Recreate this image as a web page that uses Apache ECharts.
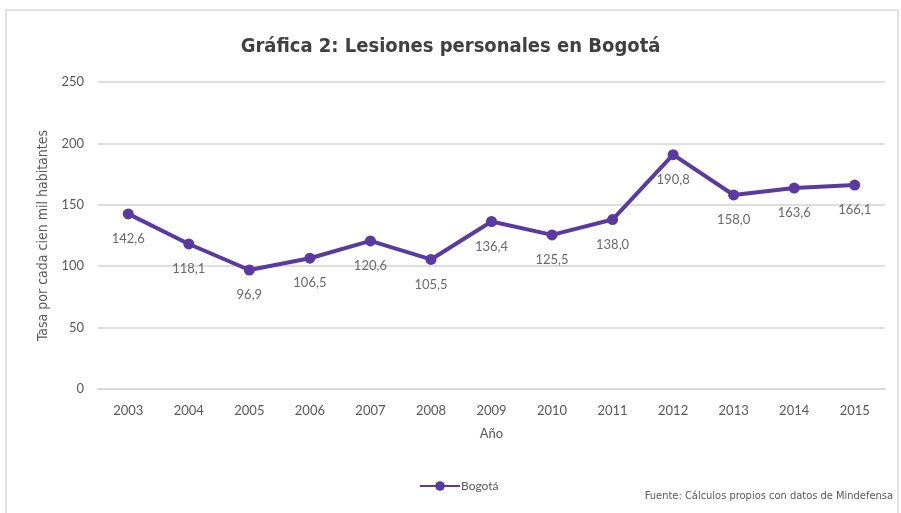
<!DOCTYPE html>
<html>
<head>
<meta charset="utf-8">
<script src="https://cdn.jsdelivr.net/npm/echarts@6/dist/echarts.min.js"></script>
<style>
  html, body { margin: 0; padding: 0; background: #fff; }
  #chart { width: 901px; height: 513px; }
</style>
</head>
<body>
<div id="chart"></div>
<script>
// años
const years = ['2003', '2004', '2005', '2006', '2007', '2008', '2009', '2010', '2011', '2012', '2013', '2014', '2015']
// tasa por cada cien mil habitantes
const bogota = [142.6, 118.1, 96.9, 106.5, 120.6, 105.5, 136.4, 125.5, 138.0, 190.8, 158.0, 163.6, 166.1]
const yTicks = [0, 50, 100, 150, 200, 250]

const purple = '#5a3aa0'
const gray = '#595959'
const labelFont = 'Lato, "Open Sans", sans-serif'
const narrowFont = '"DejaVu Sans Condensed", "Liberation Sans", sans-serif'

const myChart = echarts.init(document.getElementById('chart'))
const option = {
  backgroundColor: '#fff',
  animation: false,
  title: {
    text: 'Gráfica 2: Lesiones personales en Bogotá',
    left: 'center',
    top: 32,
    textStyle: {
      fontFamily: narrowFont,
      fontSize: 20,
      fontWeight: 'bold',
      color: '#404040'
    }
  },
  graphic: [
    {
      type: 'rect',
      shape: { x: 6, y: 10, width: 892, height: 520 },
      style: { fill: 'none', stroke: '#e3e3e3', lineWidth: 2 },
      silent: true
    },
    {
      type: 'text',
      right: 8,
      top: 491,
      style: {
        text: 'Fuente: Cálculos propios con datos de Mindefensa',
        fontFamily: narrowFont,
        fontSize: 11,
        fill: gray
      }
    }
  ],
  legend: {
    data: ['Bogotá'],
    left: 414,
    top: 475,
    itemWidth: 40,
    itemHeight: 12,
    itemGap: 2,
    textStyle: { fontFamily: labelFont, fontSize: 12, color: gray, padding: [0, 0, 0, -4] }
  },
  grid: {
    left: 98,
    right: 16,
    top: 82,
    bottom: 124
  },
  xAxis: {
    type: 'category',
    data: years,
    name: 'Año',
    nameLocation: 'middle',
    nameGap: 38,
    nameTextStyle: { fontFamily: labelFont, fontSize: 13, color: gray },
    axisLine: { show: true, lineStyle: { color: '#d9d9d9', width: 2 } },
    axisTick: { show: false },
    axisLabel: { fontFamily: labelFont, fontSize: 13, color: gray, margin: 15 }
  },
  yAxis: {
    type: 'value',
    min: yTicks[0],
    max: yTicks[yTicks.length - 1],
    interval: 50,
    name: 'Tasa por cada cien mil habitantes',
    nameLocation: 'middle',
    nameGap: 48,
    nameTextStyle: { fontFamily: narrowFont, fontSize: 14, color: gray },
    axisLine: { show: false },
    axisTick: { show: false },
    axisLabel: { fontFamily: labelFont, fontSize: 13, color: gray, margin: 14 },
    splitLine: { lineStyle: { color: '#dedede', width: 2 } }
  },
  series: [
    {
      name: 'Bogotá',
      type: 'line',
      data: bogota,
      symbol: 'circle',
      symbolSize: 11,
      itemStyle: { color: purple },
      lineStyle: { color: purple, width: 4 },
      label: {
        show: true,
        position: 'bottom',
        distance: 13,
        fontFamily: labelFont,
        fontSize: 13,
        color: '#6a6a6a',
        formatter: (p) => p.value.toFixed(1).replace('.', ',')
      }
    }
  ]
}
myChart.setOption(option)
</script>
</body>
</html>
